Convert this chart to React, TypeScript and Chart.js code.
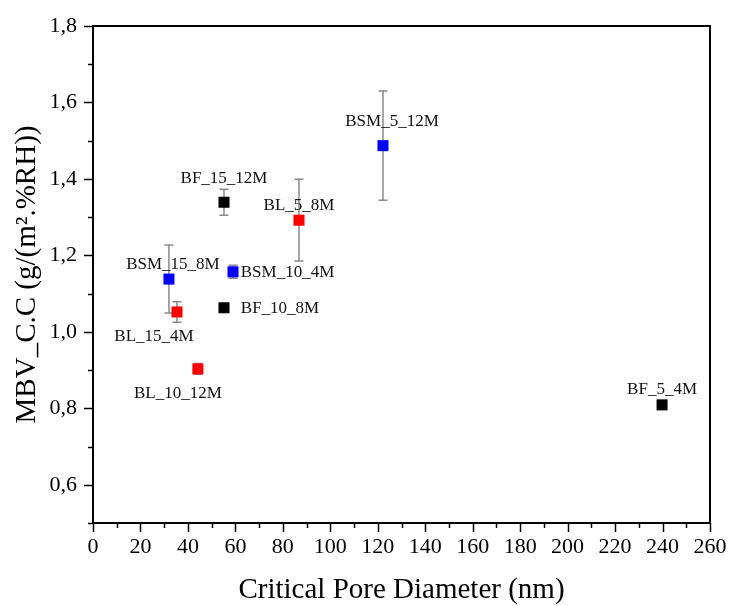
import React, { useEffect, useRef } from "react";
import { Chart, registerables } from "chart.js";

Chart.register(...registerables);

// ---- data ----
const bfNames = ["BF_15_12M", "BF_10_8M", "BF_5_4M"];
const bfX = [55.2, 55.2, 239.8];
const bfY = [1.339, 1.063, 0.809];
const bfErr = [0.034, 0, 0];

const blNames = ["BL_5_8M", "BL_15_4M", "BL_10_12M"];
const blX = [86.8, 35.4, 44.2];
const blY = [1.292, 1.052, 0.903];
const blErr = [0.107, 0.027, 0.014];

const bsmNames = ["BSM_5_12M", "BSM_15_8M", "BSM_10_4M"];
const bsmX = [122.2, 32.0, 59.0];
const bsmY = [1.487, 1.138, 1.157];
const bsmErr = [0.143, 0.089, 0.017];

const xTitle = "Critical Pore Diameter (nm)";
const yTitle = "MBV_C.C (g/(m².%RH))";

// label placement (pixel offsets of label centre from point), styling only
const labelOffsets: Record<string, [number, number]> = {
  BSM_5_12M: [9, -24],
  BF_15_12M: [0, -24],
  BL_5_8M: [0, -15],
  BSM_15_8M: [4, -15],
  BSM_10_4M: [54.5, 1],
  BF_10_8M: [56, 1],
  BL_15_4M: [-23, 25],
  BL_10_12M: [-20, 25],
  BF_5_4M: [0, -15],
};

const FONT = "'Liberation Serif', 'Times New Roman', serif";

function mk(names: string[], xs: number[], ys: number[], errs: number[]) {
  return xs.map((x, i) => ({ x, y: ys[i], err: errs[i], name: names[i] }));
}

const frameTicksPlugin = {
  id: "frameTicks",
  afterDraw(chart: any) {
    const { ctx, chartArea: a, scales } = chart;
    const xs = scales.x;
    const ys = scales.y;
    ctx.save();
    ctx.strokeStyle = "#000";
    ctx.lineWidth = 1.5;
    for (let v = 0; v <= 260; v += 10) {
      const px = Math.round(xs.getPixelForValue(v)) + 0.5;
      const len = v % 20 === 0 ? 9 : 5;
      ctx.beginPath();
      ctx.moveTo(px, a.bottom);
      ctx.lineTo(px, a.bottom + len);
      ctx.stroke();
    }
    for (let k = 5; k <= 18; k++) {
      const v = k / 10;
      const py = Math.round(ys.getPixelForValue(v)) + 0.5;
      const len = k % 2 === 0 ? 9 : 5;
      ctx.beginPath();
      ctx.moveTo(a.left, py);
      ctx.lineTo(a.left - len, py);
      ctx.stroke();
    }
    ctx.lineWidth = 2;
    ctx.strokeRect(a.left, a.top, a.right - a.left, a.bottom - a.top);
    ctx.restore();
  },
};

const errorBarPlugin = {
  id: "errorBars",
  beforeDatasetsDraw(chart: any) {
    const { ctx, scales } = chart;
    ctx.save();
    ctx.strokeStyle = "#8a8a8a";
    ctx.lineWidth = 1.5;
    chart.data.datasets.forEach((ds: any) => {
      ds.data.forEach((p: any) => {
        if (!p.err) return;
        const px = scales.x.getPixelForValue(p.x);
        const top = scales.y.getPixelForValue(p.y + p.err);
        const bot = scales.y.getPixelForValue(p.y - p.err);
        ctx.beginPath();
        ctx.moveTo(px, top);
        ctx.lineTo(px, bot);
        ctx.moveTo(px - 4.5, top);
        ctx.lineTo(px + 4.5, top);
        ctx.moveTo(px - 4.5, bot);
        ctx.lineTo(px + 4.5, bot);
        ctx.stroke();
      });
    });
    ctx.restore();
  },
};

const labelPlugin = {
  id: "pointLabels",
  afterDatasetsDraw(chart: any) {
    const { ctx, scales } = chart;
    ctx.save();
    ctx.fillStyle = "#111";
    ctx.font = `17px ${FONT}`;
    ctx.textAlign = "center";
    ctx.textBaseline = "middle";
    chart.data.datasets.forEach((ds: any) => {
      ds.data.forEach((p: any) => {
        const px = scales.x.getPixelForValue(p.x);
        const py = scales.y.getPixelForValue(p.y);
        const off = labelOffsets[p.name] || [0, -15];
        ctx.fillText(p.name, px + off[0], py + off[1]);
      });
    });
    ctx.restore();
  },
};

export default function App() {
  const ref = useRef<HTMLCanvasElement | null>(null);
  useEffect(() => {
    if (!ref.current) return;
    const chart = new Chart(ref.current, {
      type: "scatter",
      data: {
        datasets: [
          {
            label: "BF",
            data: mk(bfNames, bfX, bfY, bfErr),
            backgroundColor: "#000000",
            pointStyle: "rect",
            pointRadius: 7.8,
            borderWidth: 0,
          },
          {
            label: "BL",
            data: mk(blNames, blX, blY, blErr),
            backgroundColor: "#ff0000",
            pointStyle: "rect",
            pointRadius: 7.8,
            borderWidth: 0,
          },
          {
            label: "BSM",
            data: mk(bsmNames, bsmX, bsmY, bsmErr),
            backgroundColor: "#0000ff",
            pointStyle: "rect",
            pointRadius: 7.8,
            borderWidth: 0,
          },
        ] as any,
      },
      options: {
        responsive: false,
        animation: false,
        devicePixelRatio: 1,
        layout: { padding: { top: 26, right: 21, left: 0, bottom: -2 } },
        plugins: {
          legend: { display: false },
          tooltip: { enabled: false },
        },
        scales: {
          x: {
            type: "linear",
            min: 0,
            max: 260,
            afterFit: (s: any) => {
              s.height = 85;
              s.paddingLeft = 0;
              s.paddingRight = 0;
            },
            grid: { display: false, drawTicks: false },
            border: { display: false },
            ticks: {
              stepSize: 20,
              padding: 11,
              color: "#000",
              font: { family: FONT, size: 22 },
              maxRotation: 0,
              autoSkip: false,
              callback: (v: any) => String(v),
            },
            title: {
              display: true,
              text: xTitle,
              color: "#000",
              font: { family: FONT, size: 29 },
              padding: { top: 0, bottom: 0 },
            },
          },
          y: {
            type: "linear",
            min: 0.5,
            max: 1.8,
            afterFit: (s: any) => {
              s.width = 93;
              s.paddingTop = 0;
              s.paddingBottom = 0;
            },
            grid: { display: false, drawTicks: false },
            border: { display: false },
            ticks: {
              stepSize: 0.2,
              includeBounds: false,
              padding: 16,
              color: "#000",
              font: { family: FONT, size: 22 },
              autoSkip: false,
              callback: (v: any) => Number(v).toFixed(1).replace(".", ","),
            },
            title: {
              display: true,
              text: yTitle,
              color: "#000",
              font: { family: FONT, size: 29 },
              padding: { top: 10, bottom: 0 },
            },
          },
        },
      } as any,
      plugins: [errorBarPlugin, labelPlugin, frameTicksPlugin],
    });
    return () => chart.destroy();
  }, []);
  return (
    <div style={{ position: "absolute", left: 0, top: 0, width: 731, height: 606, background: "#fff" }}>
      <canvas ref={ref} width={731} height={606} style={{ width: 731, height: 606 }} />
    </div>
  );
}
